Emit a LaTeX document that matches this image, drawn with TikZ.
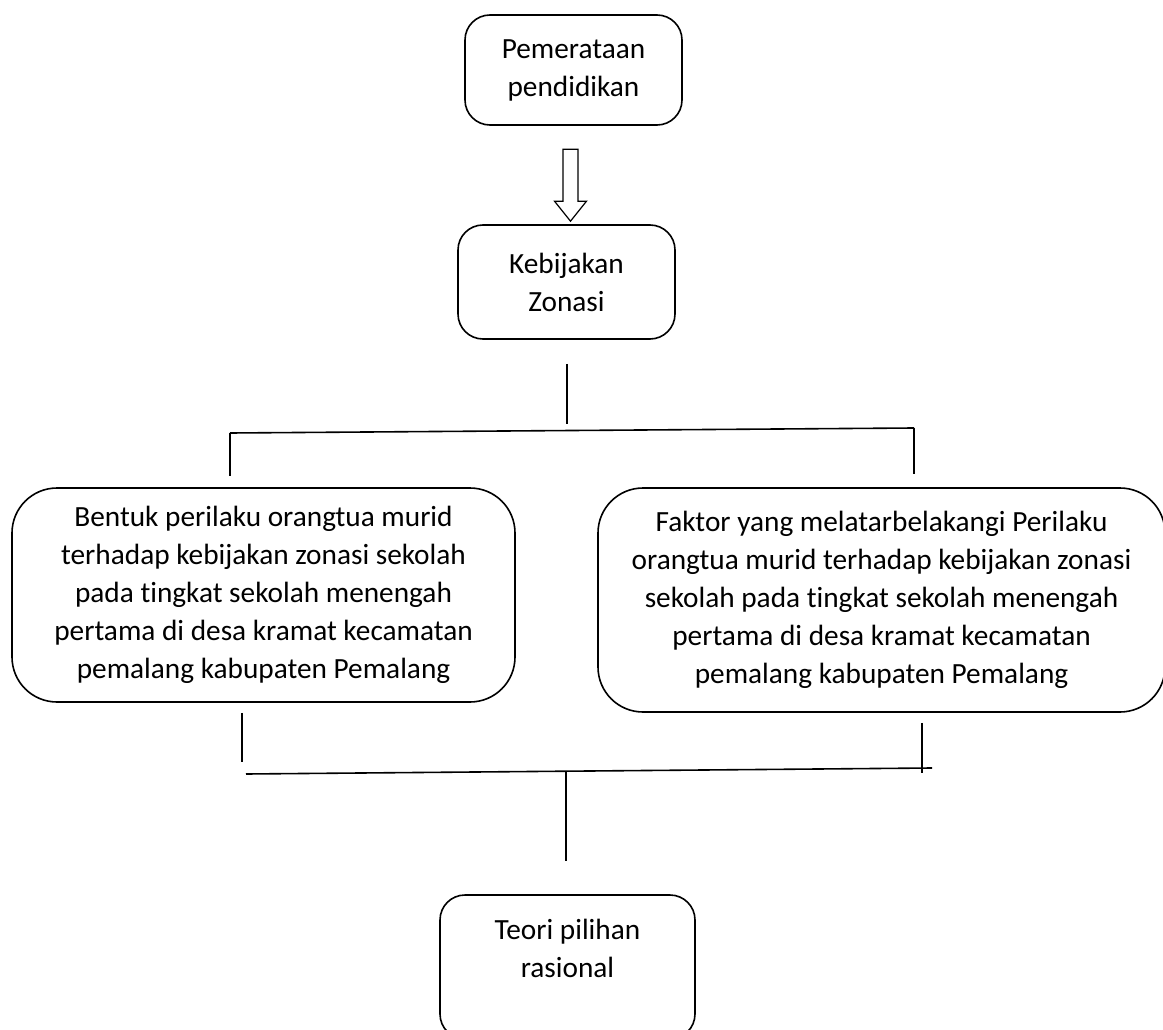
\documentclass[tikz,border=0pt]{standalone}
\usepackage{fontspec}
\setmainfont{Carlito}[Ligatures=NoCommon]
\usetikzlibrary{calc}

\begin{document}
\begin{tikzpicture}[x=1pt,y=-1pt,
	kotak/.style={draw, line width=1.6pt, align=center, inner sep=0pt, font=\fontsize{29.3}{38}\selectfont},
	garis/.style={line width=1.6pt}]
	\useasboundingbox (0,0) rectangle (1163,1030);
	% kotak-kotak
	\node[kotak, rounded corners=25pt, minimum width=217, minimum height=110] (pemerataan) at (573.5,70) {Pemerataan\\pendidikan};
	\node[kotak, rounded corners=25pt, minimum width=217, minimum height=114] (zonasi) at (566.5,282) {Kebijakan\\Zonasi};
	\node[kotak, rounded corners=45pt, minimum width=503, minimum height=214] (bentuk) at (263.5,595) {Bentuk perilaku orangtua murid\\terhadap kebijakan zonasi sekolah\\pada tingkat sekolah menengah\\pertama di desa kramat kecamatan\\pemalang kabupaten Pemalang};
	\node[kotak, rounded corners=45pt, minimum width=567, minimum height=224] (faktor) at (881.5,600) {Faktor yang melatarbelakangi Perilaku\\orangtua murid terhadap kebijakan zonasi\\sekolah pada tingkat sekolah menengah\\pertama di desa kramat kecamatan\\pemalang kabupaten Pemalang};
	\node[kotak, rounded corners=25pt, minimum width=255, minimum height=144] (teori) at (567.5,967) {Teori pilihan\\rasional\\\mbox{}};
	% panah kosong
	\coordinate (ujung) at ($(zonasi.north)+(4,-3)$);
	\draw[line width=1.2pt, line join=miter] (ujung) ++(-7.5,-72) -- ++(15,0) -- ++(0,52) -- ++(8.5,0) -- (ujung) -- ++(-16,-20) -- ++(8.5,0) -- cycle;
	% cabang atas
	\coordinate (z1) at ($(zonasi.south)+(0.5,24)$);
	\coordinate (z2) at ($(zonasi.south)+(0.5,84)$);
	\coordinate (h1) at (230,433);
	\coordinate (h2) at (914,428);
	\coordinate (b1) at ($(bentuk.north)+(-33.5,-11)$);
	\coordinate (f1) at ($(faktor.north)+(32.5,-13)$);
	\draw[garis] (z1) -- (z2);
	\draw[garis] (h1) -- (h2);
	\draw[garis] (h1) -- (b1);
	\draw[garis] (h2) -- (f1);
	% cabang bawah
	\coordinate (b2) at ($(bentuk.south)+(-21.5,10)$);
	\coordinate (b3) at ($(bentuk.south)+(-21.5,59)$);
	\coordinate (f2) at ($(faktor.south)+(40.5,10)$);
	\coordinate (f3) at ($(faktor.south)+(40.5,60)$);
	\coordinate (g1) at (246,774);
	\coordinate (g2) at (932,768);
	\coordinate (t1) at (566,772);
	\coordinate (t2) at ($(teori.north)+(-1.5,-33)$);
	\draw[garis] (b2) -- (b3);
	\draw[garis] (f2) -- (f3);
	\draw[garis] (g1) -- (g2);
	\draw[line width=1.2pt] (t1) -- (t2);
\end{tikzpicture}
\end{document}
